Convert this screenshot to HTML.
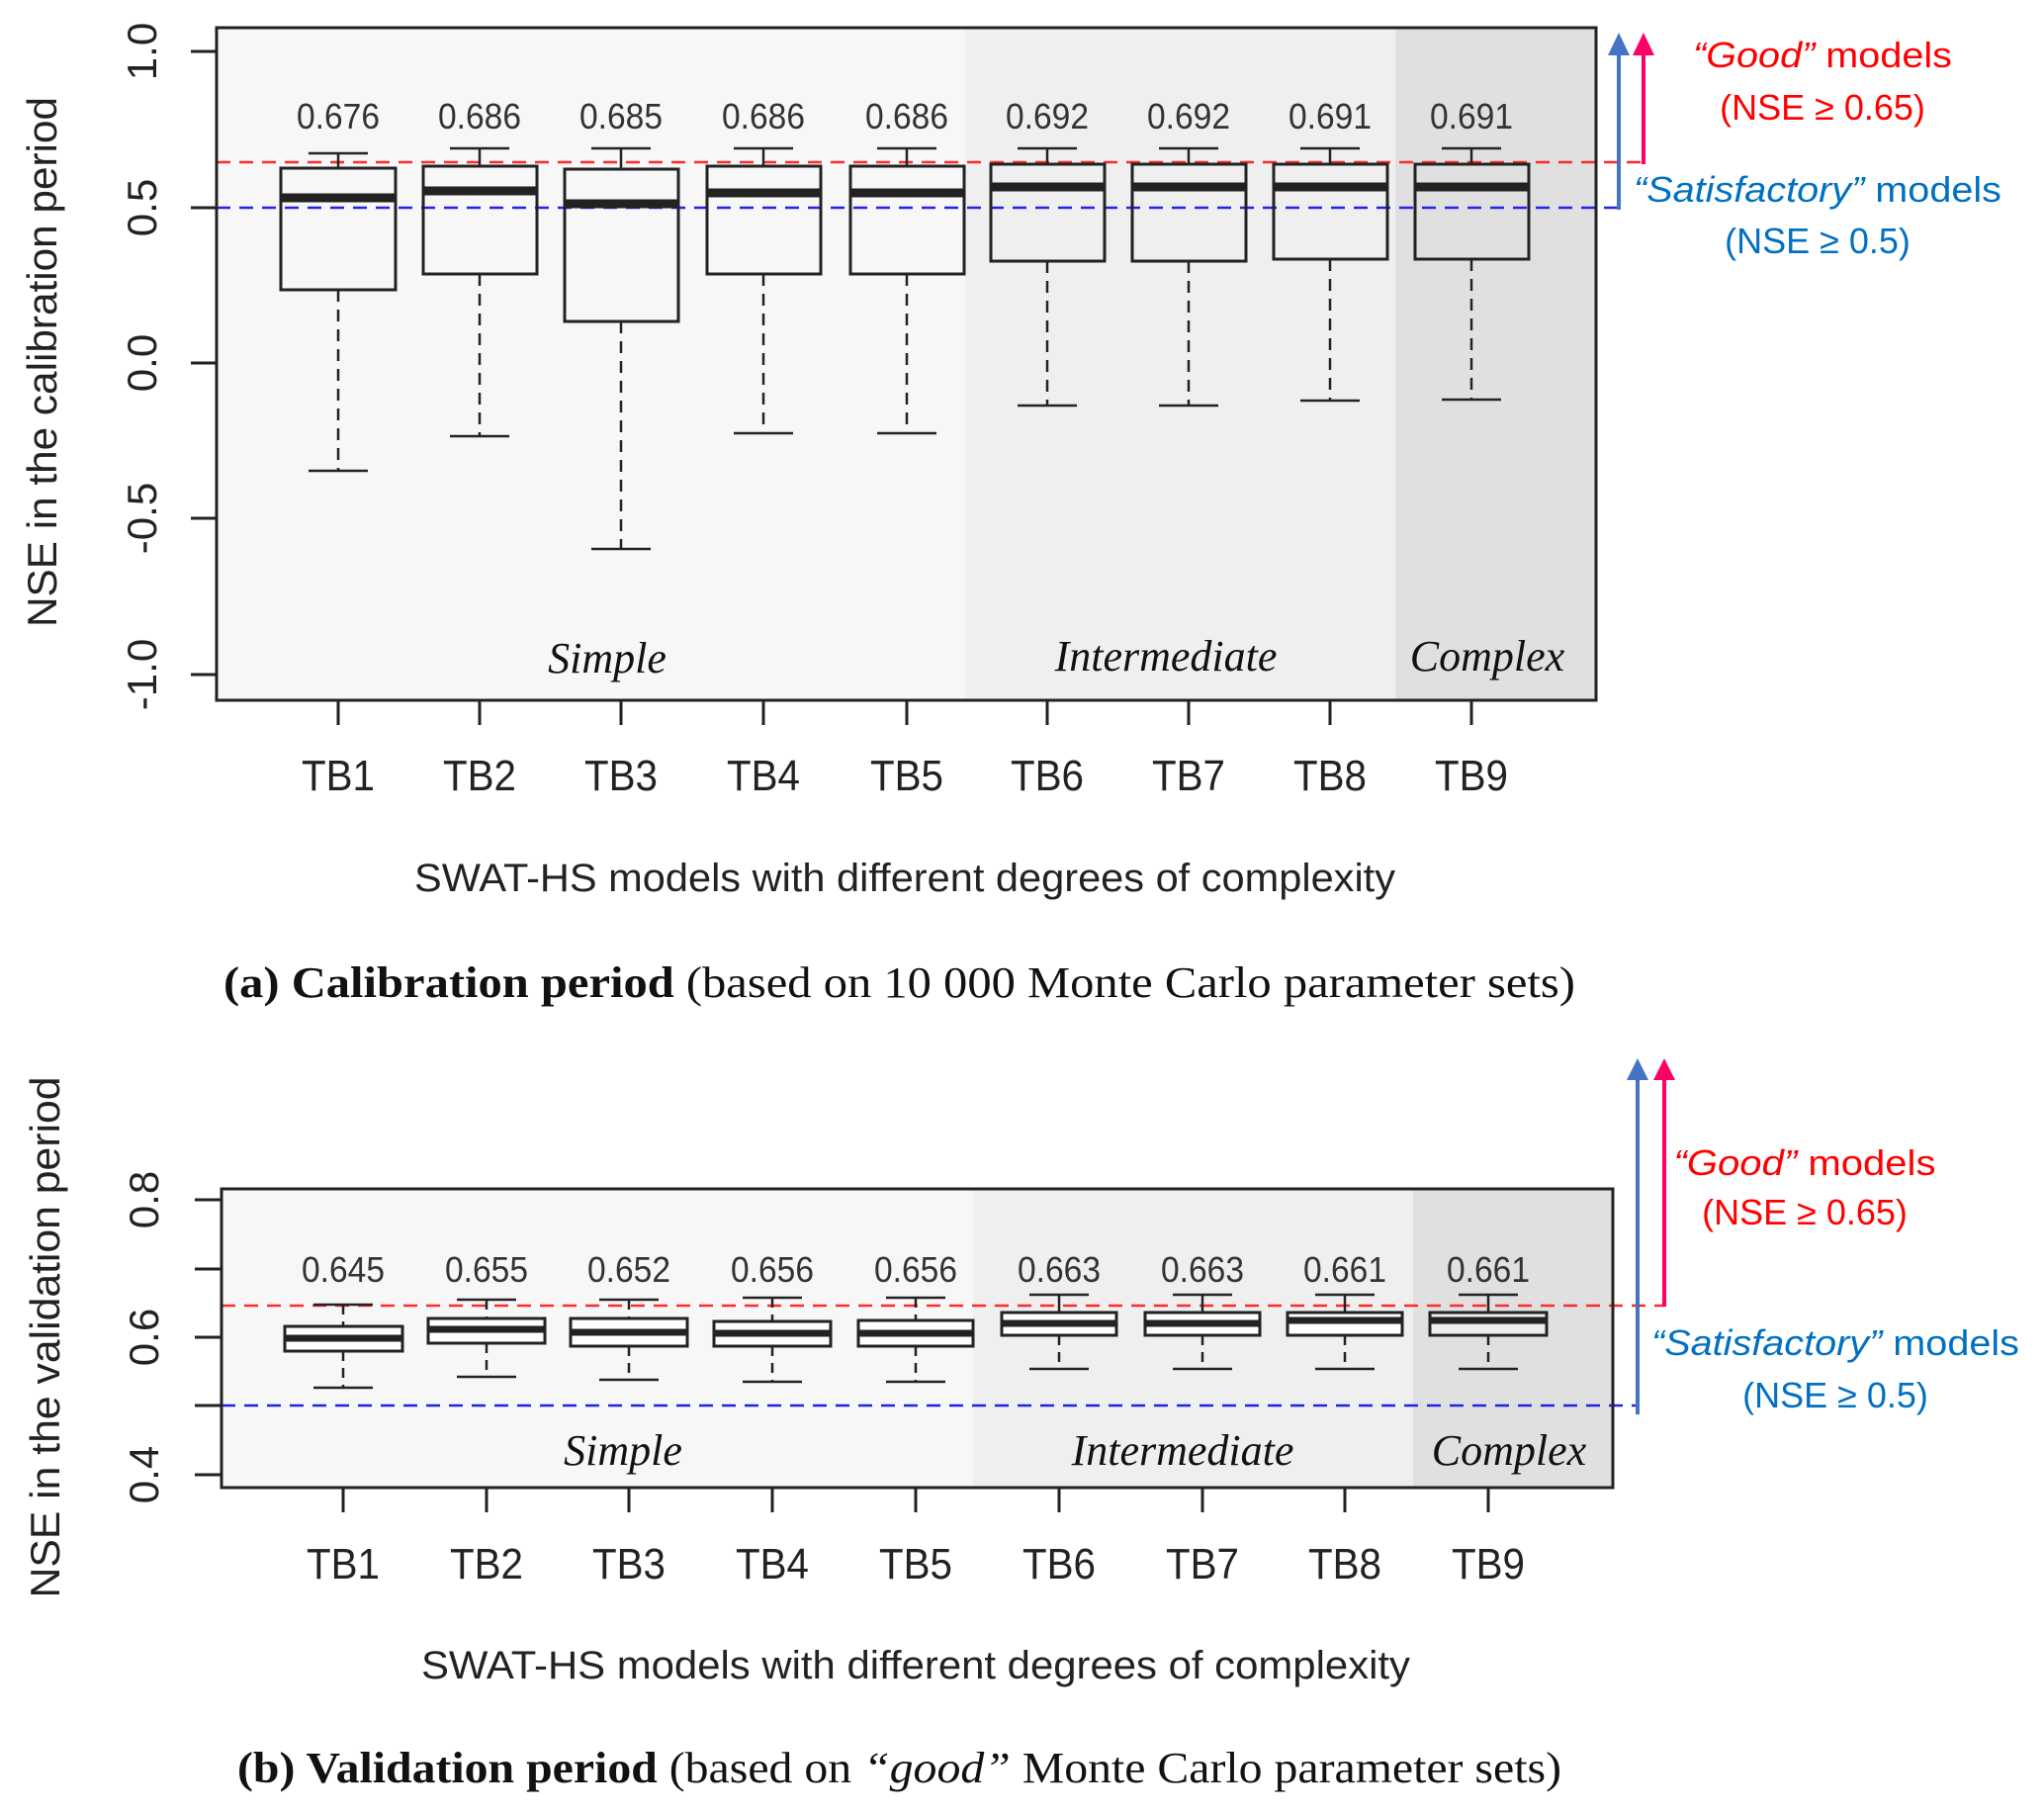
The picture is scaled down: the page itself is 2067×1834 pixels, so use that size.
<!DOCTYPE html>
<html><head><meta charset="utf-8"><style>html,body{margin:0;padding:0;background:#fff}svg{display:block}</style></head>
<body>
<svg width="2067" height="1834" viewBox="0 0 2067 1834" xmlns="http://www.w3.org/2000/svg">
<!-- ===== TOP PLOT ===== -->
<rect x="219" y="28" width="757" height="680" fill="#f7f7f7"/>
<rect x="976" y="28" width="435" height="680" fill="#efefef"/>
<rect x="1411" y="28" width="203" height="680" fill="#e0e0e0"/>
<g font-family="Liberation Serif, serif" font-style="italic" font-size="44" fill="#111" text-anchor="middle">
<text x="614" y="680">Simple</text><text x="1179" y="678">Intermediate</text><text x="1504" y="678">Complex</text>
</g>
<line x1="219" y1="164" x2="1662" y2="164" stroke="#ff2a2a" stroke-width="2.5" stroke-dasharray="14,9"/>
<line x1="219" y1="210" x2="1637" y2="210" stroke="#2222ee" stroke-width="2.5" stroke-dasharray="14,9"/>
<g stroke="#222" stroke-width="2.5" fill="none">
<!-- TB1..9 top -->
<g id="t"></g>
</g>
<g stroke="#222" stroke-width="2.5">
<line x1="342" y1="155" x2="342" y2="170"/><line x1="312" y1="155" x2="372" y2="155"/><line x1="342" y1="293" x2="342" y2="476" stroke-dasharray="12,8"/><line x1="312" y1="476" x2="372" y2="476"/><rect x="284" y="170" width="116" height="123" fill="none" stroke-width="3"/><line x1="284" y1="200" x2="400" y2="200" stroke-width="9"/>
<line x1="485" y1="150" x2="485" y2="168"/><line x1="455" y1="150" x2="515" y2="150"/><line x1="485" y1="277" x2="485" y2="441" stroke-dasharray="12,8"/><line x1="455" y1="441" x2="515" y2="441"/><rect x="428" y="168" width="115" height="109" fill="none" stroke-width="3"/><line x1="428" y1="193" x2="543" y2="193" stroke-width="9"/>
<line x1="628" y1="150" x2="628" y2="171"/><line x1="598" y1="150" x2="658" y2="150"/><line x1="628" y1="325" x2="628" y2="555" stroke-dasharray="12,8"/><line x1="598" y1="555" x2="658" y2="555"/><rect x="571" y="171" width="115" height="154" fill="none" stroke-width="3"/><line x1="571" y1="206" x2="686" y2="206" stroke-width="9"/>
<line x1="772" y1="150" x2="772" y2="168"/><line x1="742" y1="150" x2="802" y2="150"/><line x1="772" y1="277" x2="772" y2="438" stroke-dasharray="12,8"/><line x1="742" y1="438" x2="802" y2="438"/><rect x="715" y="168" width="115" height="109" fill="none" stroke-width="3"/><line x1="715" y1="195" x2="830" y2="195" stroke-width="9"/>
<line x1="917" y1="150" x2="917" y2="168"/><line x1="887" y1="150" x2="947" y2="150"/><line x1="917" y1="277" x2="917" y2="438" stroke-dasharray="12,8"/><line x1="887" y1="438" x2="947" y2="438"/><rect x="860" y="168" width="115" height="109" fill="none" stroke-width="3"/><line x1="860" y1="195" x2="975" y2="195" stroke-width="9"/>
<line x1="1059" y1="150" x2="1059" y2="166"/><line x1="1029" y1="150" x2="1089" y2="150"/><line x1="1059" y1="264" x2="1059" y2="410" stroke-dasharray="12,8"/><line x1="1029" y1="410" x2="1089" y2="410"/><rect x="1002" y="166" width="115" height="98" fill="none" stroke-width="3"/><line x1="1002" y1="189" x2="1117" y2="189" stroke-width="9"/>
<line x1="1202" y1="150" x2="1202" y2="166"/><line x1="1172" y1="150" x2="1232" y2="150"/><line x1="1202" y1="264" x2="1202" y2="410" stroke-dasharray="12,8"/><line x1="1172" y1="410" x2="1232" y2="410"/><rect x="1145" y="166" width="115" height="98" fill="none" stroke-width="3"/><line x1="1145" y1="189" x2="1260" y2="189" stroke-width="9"/>
<line x1="1345" y1="150" x2="1345" y2="166"/><line x1="1315" y1="150" x2="1375" y2="150"/><line x1="1345" y1="262" x2="1345" y2="405" stroke-dasharray="12,8"/><line x1="1315" y1="405" x2="1375" y2="405"/><rect x="1288" y="166" width="115" height="96" fill="none" stroke-width="3"/><line x1="1288" y1="189" x2="1403" y2="189" stroke-width="9"/>
<line x1="1488" y1="150" x2="1488" y2="166"/><line x1="1458" y1="150" x2="1518" y2="150"/><line x1="1488" y1="262" x2="1488" y2="404" stroke-dasharray="12,8"/><line x1="1458" y1="404" x2="1518" y2="404"/><rect x="1431" y="166" width="115" height="96" fill="none" stroke-width="3"/><line x1="1431" y1="189" x2="1546" y2="189" stroke-width="9"/>
</g>
<g font-family="Liberation Sans, sans-serif" font-size="36" fill="#333" text-anchor="middle">
<text x="342" y="130" textLength="84" lengthAdjust="spacingAndGlyphs">0.676</text>
<text x="485" y="130" textLength="84" lengthAdjust="spacingAndGlyphs">0.686</text>
<text x="628" y="130" textLength="84" lengthAdjust="spacingAndGlyphs">0.685</text>
<text x="772" y="130" textLength="84" lengthAdjust="spacingAndGlyphs">0.686</text>
<text x="917" y="130" textLength="84" lengthAdjust="spacingAndGlyphs">0.686</text>
<text x="1059" y="130" textLength="84" lengthAdjust="spacingAndGlyphs">0.692</text>
<text x="1202" y="130" textLength="84" lengthAdjust="spacingAndGlyphs">0.692</text>
<text x="1345" y="130" textLength="84" lengthAdjust="spacingAndGlyphs">0.691</text>
<text x="1488" y="130" textLength="84" lengthAdjust="spacingAndGlyphs">0.691</text>
</g>
<rect x="219" y="28" width="1395" height="680" fill="none" stroke="#222" stroke-width="3"/>
<g stroke="#222" stroke-width="3">
<line x1="193" y1="52" x2="219" y2="52"/><line x1="193" y1="210" x2="219" y2="210"/><line x1="193" y1="367" x2="219" y2="367"/><line x1="193" y1="524" x2="219" y2="524"/><line x1="193" y1="682" x2="219" y2="682"/>
<line x1="342" y1="708" x2="342" y2="733"/><line x1="485" y1="708" x2="485" y2="733"/><line x1="628" y1="708" x2="628" y2="733"/><line x1="772" y1="708" x2="772" y2="733"/><line x1="917" y1="708" x2="917" y2="733"/><line x1="1059" y1="708" x2="1059" y2="733"/><line x1="1202" y1="708" x2="1202" y2="733"/><line x1="1345" y1="708" x2="1345" y2="733"/><line x1="1488" y1="708" x2="1488" y2="733"/>
</g>
<g font-family="Liberation Sans, sans-serif" font-size="42" fill="#222" text-anchor="middle">
<text transform="translate(158,52) rotate(-90)">1.0</text>
<text transform="translate(158,210) rotate(-90)">0.5</text>
<text transform="translate(158,367) rotate(-90)">0.0</text>
<text transform="translate(158,524) rotate(-90)">-0.5</text>
<text transform="translate(158,682) rotate(-90)">-1.0</text>
<text transform="translate(57,366) rotate(-90)" textLength="536" lengthAdjust="spacingAndGlyphs">NSE in the calibration period</text>
</g>
<g font-family="Liberation Sans, sans-serif" font-size="44" fill="#222" text-anchor="middle">
<text x="342" y="799" textLength="74" lengthAdjust="spacingAndGlyphs">TB1</text>
<text x="485" y="799" textLength="74" lengthAdjust="spacingAndGlyphs">TB2</text>
<text x="628" y="799" textLength="74" lengthAdjust="spacingAndGlyphs">TB3</text>
<text x="772" y="799" textLength="74" lengthAdjust="spacingAndGlyphs">TB4</text>
<text x="917" y="799" textLength="74" lengthAdjust="spacingAndGlyphs">TB5</text>
<text x="1059" y="799" textLength="74" lengthAdjust="spacingAndGlyphs">TB6</text>
<text x="1202" y="799" textLength="74" lengthAdjust="spacingAndGlyphs">TB7</text>
<text x="1345" y="799" textLength="74" lengthAdjust="spacingAndGlyphs">TB8</text>
<text x="1488" y="799" textLength="74" lengthAdjust="spacingAndGlyphs">TB9</text>
<text x="915" y="901" font-size="40" textLength="992" lengthAdjust="spacingAndGlyphs">SWAT-HS models with different degrees of complexity</text>
</g>
<text x="226" y="1008" font-family="Liberation Serif, serif" font-size="44" fill="#111" textLength="1367" lengthAdjust="spacingAndGlyphs"><tspan font-weight="bold">(a)   Calibration period</tspan> (based on 10 000 Monte Carlo parameter sets)</text>
<!-- top annotations -->
<line x1="1637" y1="52" x2="1637" y2="212" stroke="#4472c4" stroke-width="4"/>
<polygon points="1626,56 1648,56 1637,33" fill="#4472c4"/>
<line x1="1662" y1="52" x2="1662" y2="166" stroke="#ff0066" stroke-width="4"/>
<polygon points="1651,56 1673,56 1662,33" fill="#ff0066"/>
<g font-family="Liberation Sans, sans-serif" font-size="36" text-anchor="middle">
<text x="1843" y="68" fill="#ff0000" textLength="262" lengthAdjust="spacingAndGlyphs"><tspan font-style="italic">“Good”</tspan> models</text>
<text x="1843" y="121" fill="#ff0000">(NSE ≥ 0.65)</text>
<text x="1838" y="204" fill="#0070c0" textLength="372" lengthAdjust="spacingAndGlyphs"><tspan font-style="italic">“Satisfactory”</tspan> models</text>
<text x="1838" y="256" fill="#0070c0">(NSE ≥ 0.5)</text>
</g>

<!-- ===== BOTTOM PLOT ===== -->
<rect x="224" y="1202" width="760" height="302" fill="#f7f7f7"/>
<rect x="984" y="1202" width="445" height="302" fill="#efefef"/>
<rect x="1429" y="1202" width="202" height="302" fill="#e0e0e0"/>
<g font-family="Liberation Serif, serif" font-style="italic" font-size="44" fill="#111" text-anchor="middle">
<text x="630" y="1481">Simple</text><text x="1196" y="1481">Intermediate</text><text x="1526" y="1481">Complex</text>
</g>
<line x1="224" y1="1320" x2="1683" y2="1320" stroke="#ff2a2a" stroke-width="2.5" stroke-dasharray="14,9"/>
<line x1="224" y1="1421" x2="1656" y2="1421" stroke="#2222ee" stroke-width="2.5" stroke-dasharray="14,9"/>
<g stroke="#222" stroke-width="2.5">
<line x1="347" y1="1319" x2="347" y2="1341" stroke-dasharray="10,7"/><line x1="317" y1="1319" x2="377" y2="1319"/><line x1="347" y1="1366" x2="347" y2="1403" stroke-dasharray="10,7"/><line x1="317" y1="1403" x2="377" y2="1403"/><rect x="288" y="1341" width="119" height="25" fill="#fff" stroke-width="3"/><line x1="288" y1="1353" x2="407" y2="1353" stroke-width="7"/>
<line x1="492" y1="1314" x2="492" y2="1333" stroke-dasharray="10,7"/><line x1="462" y1="1314" x2="522" y2="1314"/><line x1="492" y1="1358" x2="492" y2="1392" stroke-dasharray="10,7"/><line x1="462" y1="1392" x2="522" y2="1392"/><rect x="433" y="1333" width="118" height="25" fill="#fff" stroke-width="3"/><line x1="433" y1="1344" x2="551" y2="1344" stroke-width="7"/>
<line x1="636" y1="1314" x2="636" y2="1333" stroke-dasharray="10,7"/><line x1="606" y1="1314" x2="666" y2="1314"/><line x1="636" y1="1361" x2="636" y2="1395" stroke-dasharray="10,7"/><line x1="606" y1="1395" x2="666" y2="1395"/><rect x="577" y="1333" width="118" height="28" fill="#fff" stroke-width="3"/><line x1="577" y1="1347" x2="695" y2="1347" stroke-width="7"/>
<line x1="781" y1="1312" x2="781" y2="1336" stroke-dasharray="10,7"/><line x1="751" y1="1312" x2="811" y2="1312"/><line x1="781" y1="1361" x2="781" y2="1397" stroke-dasharray="10,7"/><line x1="751" y1="1397" x2="811" y2="1397"/><rect x="722" y="1336" width="118" height="25" fill="#fff" stroke-width="3"/><line x1="722" y1="1348" x2="840" y2="1348" stroke-width="7"/>
<line x1="926" y1="1312" x2="926" y2="1335" stroke-dasharray="10,7"/><line x1="896" y1="1312" x2="956" y2="1312"/><line x1="926" y1="1361" x2="926" y2="1397" stroke-dasharray="10,7"/><line x1="896" y1="1397" x2="956" y2="1397"/><rect x="868" y="1335" width="116" height="26" fill="#fff" stroke-width="3"/><line x1="868" y1="1348" x2="984" y2="1348" stroke-width="7"/>
<line x1="1071" y1="1309" x2="1071" y2="1327"/><line x1="1041" y1="1309" x2="1101" y2="1309"/><line x1="1071" y1="1350" x2="1071" y2="1384" stroke-dasharray="10,7"/><line x1="1041" y1="1384" x2="1101" y2="1384"/><rect x="1013" y="1327" width="116" height="23" fill="#fff" stroke-width="3"/><line x1="1013" y1="1338" x2="1129" y2="1338" stroke-width="7"/>
<line x1="1216" y1="1309" x2="1216" y2="1327"/><line x1="1186" y1="1309" x2="1246" y2="1309"/><line x1="1216" y1="1350" x2="1216" y2="1384" stroke-dasharray="10,7"/><line x1="1186" y1="1384" x2="1246" y2="1384"/><rect x="1158" y="1327" width="116" height="23" fill="#fff" stroke-width="3"/><line x1="1158" y1="1338" x2="1274" y2="1338" stroke-width="7"/>
<line x1="1360" y1="1309" x2="1360" y2="1327"/><line x1="1330" y1="1309" x2="1390" y2="1309"/><line x1="1360" y1="1350" x2="1360" y2="1384" stroke-dasharray="10,7"/><line x1="1330" y1="1384" x2="1390" y2="1384"/><rect x="1302" y="1327" width="116" height="23" fill="#fff" stroke-width="3"/><line x1="1302" y1="1335" x2="1418" y2="1335" stroke-width="7"/>
<line x1="1505" y1="1309" x2="1505" y2="1327"/><line x1="1475" y1="1309" x2="1535" y2="1309"/><line x1="1505" y1="1350" x2="1505" y2="1384" stroke-dasharray="10,7"/><line x1="1475" y1="1384" x2="1535" y2="1384"/><rect x="1446" y="1327" width="118" height="23" fill="#eee" stroke-width="3"/><line x1="1446" y1="1335" x2="1564" y2="1335" stroke-width="7"/>
</g>
<g font-family="Liberation Sans, sans-serif" font-size="36" fill="#333" text-anchor="middle">
<text x="347" y="1296" textLength="84" lengthAdjust="spacingAndGlyphs">0.645</text>
<text x="492" y="1296" textLength="84" lengthAdjust="spacingAndGlyphs">0.655</text>
<text x="636" y="1296" textLength="84" lengthAdjust="spacingAndGlyphs">0.652</text>
<text x="781" y="1296" textLength="84" lengthAdjust="spacingAndGlyphs">0.656</text>
<text x="926" y="1296" textLength="84" lengthAdjust="spacingAndGlyphs">0.656</text>
<text x="1071" y="1296" textLength="84" lengthAdjust="spacingAndGlyphs">0.663</text>
<text x="1216" y="1296" textLength="84" lengthAdjust="spacingAndGlyphs">0.663</text>
<text x="1360" y="1296" textLength="84" lengthAdjust="spacingAndGlyphs">0.661</text>
<text x="1505" y="1296" textLength="84" lengthAdjust="spacingAndGlyphs">0.661</text>
</g>
<rect x="224" y="1202" width="1407" height="302" fill="none" stroke="#222" stroke-width="3"/>
<g stroke="#222" stroke-width="3">
<line x1="197" y1="1213" x2="224" y2="1213"/><line x1="197" y1="1283" x2="224" y2="1283"/><line x1="197" y1="1352" x2="224" y2="1352"/><line x1="197" y1="1421" x2="224" y2="1421"/><line x1="197" y1="1491" x2="224" y2="1491"/>
<line x1="347" y1="1504" x2="347" y2="1529"/><line x1="492" y1="1504" x2="492" y2="1529"/><line x1="636" y1="1504" x2="636" y2="1529"/><line x1="781" y1="1504" x2="781" y2="1529"/><line x1="926" y1="1504" x2="926" y2="1529"/><line x1="1071" y1="1504" x2="1071" y2="1529"/><line x1="1216" y1="1504" x2="1216" y2="1529"/><line x1="1360" y1="1504" x2="1360" y2="1529"/><line x1="1505" y1="1504" x2="1505" y2="1529"/>
</g>
<g font-family="Liberation Sans, sans-serif" font-size="42" fill="#222" text-anchor="middle">
<text transform="translate(160,1213) rotate(-90)">0.8</text>
<text transform="translate(160,1352) rotate(-90)">0.6</text>
<text transform="translate(160,1491) rotate(-90)">0.4</text>
<text transform="translate(60,1352) rotate(-90)" textLength="527" lengthAdjust="spacingAndGlyphs">NSE in the validation period</text>
</g>
<g font-family="Liberation Sans, sans-serif" font-size="44" fill="#222" text-anchor="middle">
<text x="347" y="1596" textLength="74" lengthAdjust="spacingAndGlyphs">TB1</text>
<text x="492" y="1596" textLength="74" lengthAdjust="spacingAndGlyphs">TB2</text>
<text x="636" y="1596" textLength="74" lengthAdjust="spacingAndGlyphs">TB3</text>
<text x="781" y="1596" textLength="74" lengthAdjust="spacingAndGlyphs">TB4</text>
<text x="926" y="1596" textLength="74" lengthAdjust="spacingAndGlyphs">TB5</text>
<text x="1071" y="1596" textLength="74" lengthAdjust="spacingAndGlyphs">TB6</text>
<text x="1216" y="1596" textLength="74" lengthAdjust="spacingAndGlyphs">TB7</text>
<text x="1360" y="1596" textLength="74" lengthAdjust="spacingAndGlyphs">TB8</text>
<text x="1505" y="1596" textLength="74" lengthAdjust="spacingAndGlyphs">TB9</text>
<text x="926" y="1697" font-size="40" textLength="1000" lengthAdjust="spacingAndGlyphs">SWAT-HS models with different degrees of complexity</text>
</g>
<text x="240" y="1802" font-family="Liberation Serif, serif" font-size="44" fill="#111" textLength="1339" lengthAdjust="spacingAndGlyphs"><tspan font-weight="bold">(b) Validation period</tspan> (based on <tspan font-style="italic">“good”</tspan> Monte Carlo parameter sets)</text>
<!-- bottom annotations -->
<line x1="1656" y1="1088" x2="1656" y2="1430" stroke="#4472c4" stroke-width="4"/>
<polygon points="1645,1092 1667,1092 1656,1070" fill="#4472c4"/>
<line x1="1683" y1="1088" x2="1683" y2="1321" stroke="#ff0066" stroke-width="4"/>
<polygon points="1672,1092 1694,1092 1683,1070" fill="#ff0066"/>
<g font-family="Liberation Sans, sans-serif" font-size="36" text-anchor="middle">
<text x="1825" y="1188" fill="#ff0000" textLength="265" lengthAdjust="spacingAndGlyphs"><tspan font-style="italic">“Good”</tspan> models</text>
<text x="1825" y="1238" fill="#ff0000">(NSE ≥ 0.65)</text>
<text x="1856" y="1370" fill="#0070c0" textLength="372" lengthAdjust="spacingAndGlyphs"><tspan font-style="italic">“Satisfactory”</tspan> models</text>
<text x="1856" y="1423" fill="#0070c0">(NSE ≥ 0.5)</text>
</g>
</svg>
</body></html>
